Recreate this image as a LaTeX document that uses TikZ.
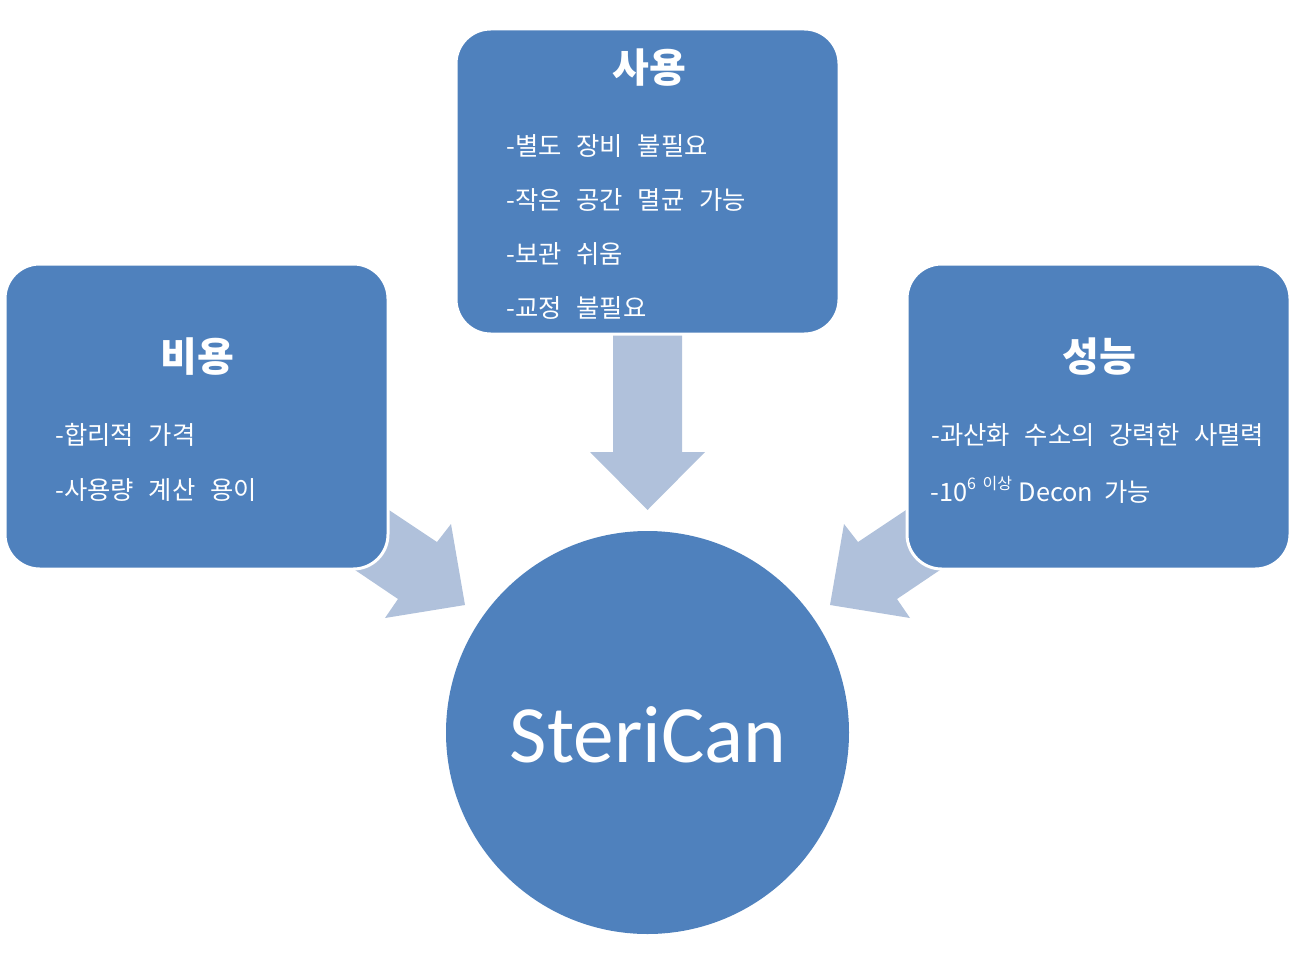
\documentclass[tikz,border=0pt]{standalone}
\usepackage{fontspec}
\setmainfont{Noto Sans CJK KR}[WordSpace=2.6]
\newfontfamily\latinfont{Carlito}
\definecolor{boxblue}{HTML}{4F81BD}
\definecolor{arrowblue}{HTML}{B0C1DB}
\begin{document}
\begin{tikzpicture}[x=0.75pt,y=-0.75pt,
  panel/.style={fill=boxblue, draw=white, line width=2.25pt, rounded corners=26pt,
    minimum width=287.25pt, minimum height=228.75pt, inner sep=0pt},
  hub/.style={circle, fill=boxblue, draw=none, minimum size=302.25pt, inner sep=0pt},
  blockarrow/.style={fill=arrowblue, draw=none},
  titletext/.style={text=white, font=\fontsize{30}{36}\selectfont\bfseries, inner sep=0pt},
  itemtext/.style={text=white, font=\fontsize{19}{23}\selectfont, inner sep=0pt, anchor=west},
  hubtext/.style={text=white, font=\latinfont\fontsize{61}{70}\selectfont, inner sep=0pt}]
\useasboundingbox (0,0) rectangle (1295,963);
% block arrows (behind the panels)
\fill[blockarrow] (613,320) -- (682,320) -- (682,452) -- (705,452) -- (647.5,510)
  -- (590,452) -- (613,452) -- cycle;
\fill[blockarrow] (347,482) -- (437,542) -- (451,524) -- (465,605) -- (385,618)
  -- (398,599) -- (315,543) -- cycle;
\fill[blockarrow] (948,482) -- (858,542) -- (844,524) -- (830,605) -- (910,618)
  -- (897,599) -- (980,543) -- cycle;
% panels
\node[panel] (use) at (647.5,181.5) {};
\node[panel] (cost) at (196.5,416.5) {};
\node[panel] (perf) at (1098.5,416.5) {};
\node[hub] (hub) at (647.5,732.5) {};
% titles
\node[titletext] (useT) at (649,68) {사용};
\node[titletext] (costT) at (197,357) {비용};
\node[titletext] (perfT) at (1099,357) {성능};
% items
\node[itemtext] (u1) at (506,146) {-별도 장비 불필요};
\node[itemtext] (u2) at (506,200) {-작은 공간 멸균 가능};
\node[itemtext] (u3) at (506,254) {-보관 쉬움};
\node[itemtext] (u4) at (506,308) {-교정 불필요};
\node[itemtext] (c1) at (55,435) {-합리적 가격};
\node[itemtext] (c2) at (55,490) {-사용량 계산 용이};
\node[itemtext] (p1) at (931,435) {-과산화 수소의 강력한 사멸력};
\node[itemtext] (p2) at (930,490) {-10\raisebox{0.45em}{\fontsize{12}{14}\selectfont 6\hspace{5pt}이상}\hspace{5pt}Decon\hspace{8pt}가능};
% hub label
\node[hubtext] (hubT) at (648,735) {SteriCan};
\end{tikzpicture}
\end{document}
